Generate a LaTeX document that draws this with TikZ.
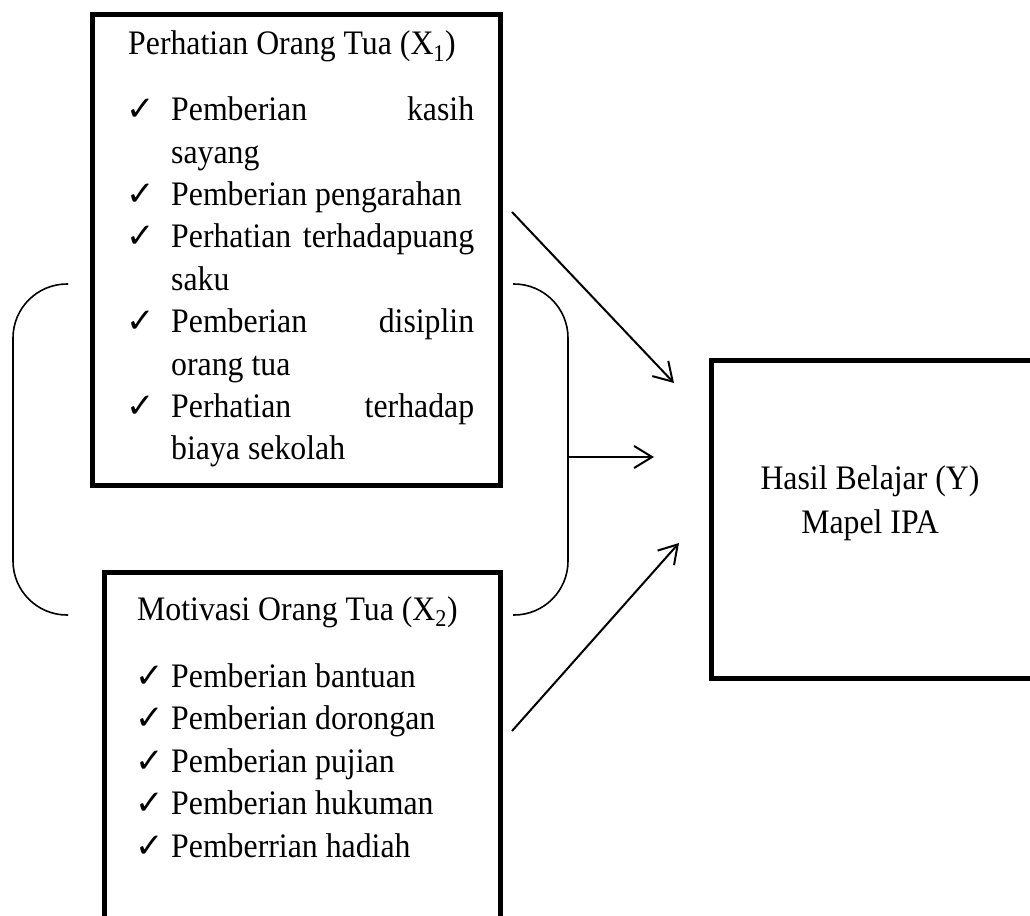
\documentclass[tikz,border=0pt]{standalone}
\usepackage{graphicx}
\usepackage{fontspec}
\setmainfont{Liberation Serif}
\newfontfamily\chkfont{DejaVu Sans}
\usetikzlibrary{arrows.meta}
\tikzset{
  boxthick/.style={draw, line width=5pt, inner sep=0pt, anchor=north west},
  txt/.style={anchor=base west, inner sep=0pt, font=\fontsize{31.8}{38}\selectfont},
  chkm/.style={anchor=base west, inner sep=0pt, font=\chkfont\fontsize{34}{40}\selectfont},
  bracketline/.style={line width=1.6pt, rounded corners=54pt},
  conn/.style={line width=2pt, -{Straight Barb[length=18pt,width=22pt,line width=2pt]}},
}
\newcommand{\stx}[1]{\scalebox{1}[1.08]{#1}}
\newcommand{\jline}[1]{\stx{\makebox[303pt][s]{#1}}}
\begin{document}
\begin{tikzpicture}[x=1pt,y=-1pt]
\useasboundingbox (0,0) rectangle (1030,915);
\clip (0,0) rectangle (1030,915);
\fill[white] (0,0) rectangle (1030,915);

% boxes
\node[boxthick, minimum width=408pt, minimum height=470.5pt] (x1) at (89.5,12.5) {};
\node[boxthick, minimum width=396pt, minimum height=420pt] (x2) at (101.5,570) {};
\node[boxthick, minimum width=345pt, minimum height=318pt] (y) at (708.5,357.5) {};

% X1 contents
\node[txt] (x1t) at (128,55) {\stx{Perhatian Orang Tua (X\textsubscript{1})}};
\node[chkm] (c11) at (126,120.6) {✓};
\node[txt] (l11) at (171,120.6) {\jline{Pemberian kasih}};
\node[txt] (l12) at (171,163) {\stx{sayang}};
\node[chkm] (c12) at (126,205.4) {✓};
\node[txt] (l13) at (171,205.4) {\stx{Pemberian pengarahan}};
\node[chkm] (c13) at (126,247.8) {✓};
\node[txt] (l14) at (171,247.8) {\jline{Perhatian terhadapuang}};
\node[txt] (l15) at (171,290.2) {\stx{saku}};
\node[chkm] (c14) at (126,332.6) {✓};
\node[txt] (l16) at (171,332.6) {\jline{Pemberian disiplin}};
\node[txt] (l17) at (171,375) {\stx{orang tua}};
\node[chkm] (c15) at (126,417.4) {✓};
\node[txt] (l18) at (171,417.4) {\jline{Perhatian terhadap}};
\node[txt] (l19) at (171,459.8) {\stx{biaya sekolah}};

% X2 contents
\node[txt] (x2t) at (137,620) {\stx{Motivasi Orang Tua (X\textsubscript{2})}};
\node[chkm] (c21) at (135,687) {✓};
\node[txt] (l21) at (171,687) {\stx{Pemberian bantuan}};
\node[chkm] (c22) at (135,729.5) {✓};
\node[txt] (l22) at (171,729.5) {\stx{Pemberian dorongan}};
\node[chkm] (c23) at (135,772) {✓};
\node[txt] (l23) at (171,772) {\stx{Pemberian pujian}};
\node[chkm] (c24) at (135,814.5) {✓};
\node[txt] (l24) at (171,814.5) {\stx{Pemberian hukuman}};
\node[chkm] (c25) at (135,857) {✓};
\node[txt] (l25) at (171,857) {\stx{Pemberrian hadiah}};

% Y contents
\node[txt, anchor=base] (yt1) at (870,489) {\stx{Hasil Belajar (Y)}};
\node[txt, anchor=base] (yt2) at (870,533) {\stx{Mapel IPA}};

% brackets
\draw[bracketline] (68,284) -- (13,284) -- (13,615) -- (68,615);
\draw[bracketline] (513,284) -- (568,284) -- (568,615) -- (513,615);

% connectors
\coordinate (a1s) at (512,212);
\coordinate (a1e) at (674,383);
\coordinate (a2s) at (568,457);
\coordinate (a2e) at (654,457);
\coordinate (a3s) at (512,731);
\coordinate (a3e) at (679,543);
\draw[conn] (a1s) -- (a1e);
\draw[conn] (a2s) -- (a2e);
\draw[conn] (a3s) -- (a3e);
\end{tikzpicture}
\end{document}
